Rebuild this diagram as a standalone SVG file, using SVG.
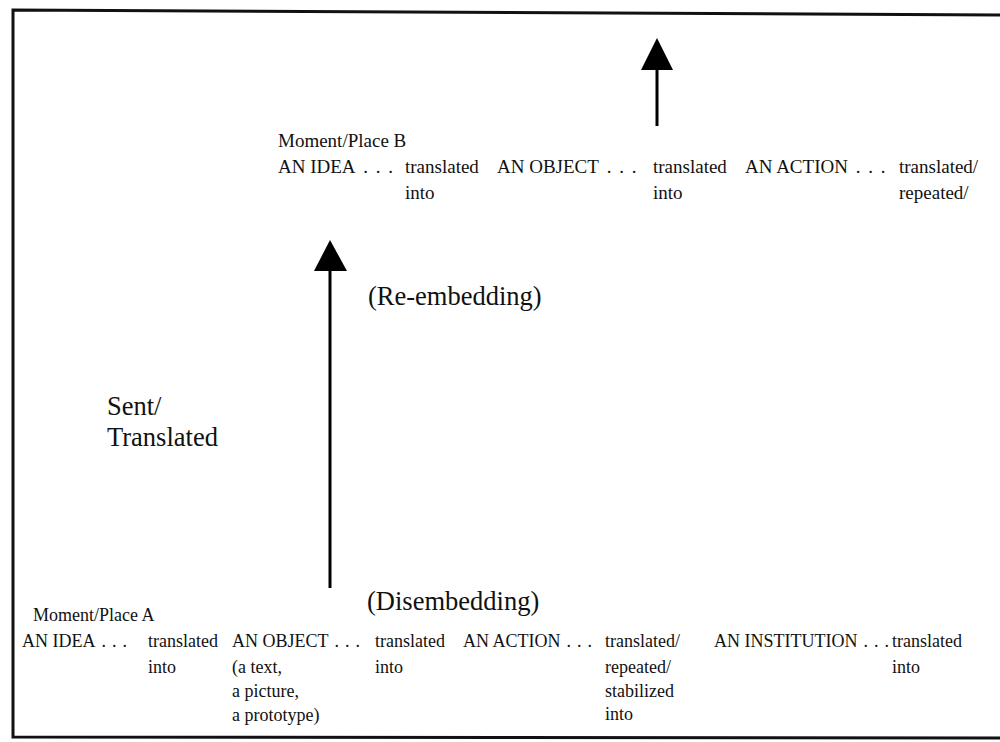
<svg xmlns="http://www.w3.org/2000/svg" width="1000" height="742" viewBox="0 0 1000 742">
<style>
.t{font-family:"Liberation Serif","Times New Roman",serif;font-size:19px;fill:#111}
.b{font-size:18px}
.d{word-spacing:3px}
.d2{word-spacing:1.5px}
.l{font-family:"Liberation Serif","Times New Roman",serif;font-size:26.5px;fill:#111}
</style>
<rect width="1000" height="742" fill="#fff"/>
<path d="M1000,15 L13,10 L13,737 L1000,738" fill="none" stroke="#111" stroke-width="3"/>
<g id="connectors">
<line x1="657" y1="126" x2="657" y2="68" stroke="#000" stroke-width="3"/>
<path d="M657,38 L673,70 L641,70 Z" fill="#000"/>
<line x1="330" y1="588" x2="330" y2="268" stroke="#000" stroke-width="3"/>
<path d="M330,240 L347,271 L314,271 Z" fill="#000"/>
</g>
<g id="placeB">
<text class="t" x="278" y="147">Moment/Place B</text>
<text class="t" x="278" y="173">AN IDEA<tspan class="d"> . . .</tspan></text>
<text class="t" x="405" y="173">translated</text>
<text class="t" x="405" y="199">into</text>
<text class="t" x="497" y="173">AN OBJECT<tspan class="d"> . . .</tspan></text>
<text class="t" x="653" y="173">translated</text>
<text class="t" x="653" y="199">into</text>
<text class="t" x="745" y="173">AN ACTION<tspan class="d"> . . .</tspan></text>
<text class="t" x="899" y="173">translated/</text>
<text class="t" x="899" y="199">repeated/</text>
</g>
<g id="labels">
<text class="l" x="368" y="305">(Re-embedding)</text>
<text class="l" x="107" y="415">Sent/</text>
<text class="l" x="107" y="446">Translated</text>
<text class="l" x="367" y="610">(Disembedding)</text>
</g>
<g id="placeA">
<text class="t b" x="33" y="621">Moment/Place A</text>
<text class="t b" x="22" y="647">AN IDEA<tspan class="d2"> . . .</tspan></text>
<text class="t b" x="148" y="647">translated</text>
<text class="t b" x="148" y="673">into</text>
<text class="t b" x="232" y="647">AN OBJECT<tspan class="d2"> . . .</tspan></text>
<text class="t b" x="232" y="673">(a text,</text>
<text class="t b" x="232" y="697">a picture,</text>
<text class="t b" x="232" y="721">a prototype)</text>
<text class="t b" x="375" y="647">translated</text>
<text class="t b" x="375" y="673">into</text>
<text class="t b" x="463" y="647">AN ACTION<tspan class="d2"> . . .</tspan></text>
<text class="t b" x="605" y="647">translated/</text>
<text class="t b" x="605" y="673">repeated/</text>
<text class="t b" x="605" y="697">stabilized</text>
<text class="t b" x="605" y="720">into</text>
<text class="t b" x="714" y="647">AN INSTITUTION<tspan class="d2"> . . .</tspan></text>
<text class="t b" x="892" y="647">translated</text>
<text class="t b" x="892" y="673">into</text>
</g>
</svg>
